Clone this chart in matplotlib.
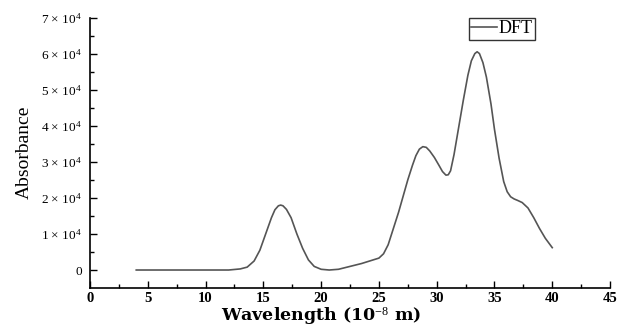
import matplotlib

matplotlib.use("Agg")
import matplotlib.pyplot as plt
from matplotlib.ticker import FuncFormatter, MultipleLocator

plt.rcParams["font.family"] = "serif"
plt.rcParams["font.serif"] = ["Liberation Serif", "DejaVu Serif"]
plt.rcParams["mathtext.fontset"] = "custom"
plt.rcParams["mathtext.rm"] = "Liberation Serif"
plt.rcParams["mathtext.it"] = "Liberation Serif:italic"
plt.rcParams["mathtext.bf"] = "Liberation Serif:bold"

# wavelength (10^-8 m)
wavelength = [4.0, 8.0, 12.0, 13.0, 13.6, 14.2, 14.7, 15.2, 15.7, 16.0, 16.3, 16.5,
              16.7, 17.0, 17.4, 17.9, 18.4, 18.9, 19.4, 20.0, 20.7, 21.5, 22.5, 23.5,
              24.5, 25.0, 25.4, 25.8, 26.2, 26.7, 27.1, 27.5, 27.9, 28.2, 28.5, 28.8,
              29.1, 29.4, 29.8, 30.2, 30.5, 30.8, 31.0, 31.2, 31.5, 31.9, 32.3, 32.7,
              33.0, 33.3, 33.5, 33.7, 34.0, 34.3, 34.7, 35.0, 35.4, 35.8, 36.1, 36.4,
              36.7, 37.0, 37.4, 37.9, 38.4, 38.9, 39.4, 40.0]
# absorbance (x 10^4)
absorbance = [0.0, 0.0, 0.0, 0.03, 0.08, 0.25, 0.55, 1.0, 1.45, 1.67, 1.78, 1.8,
              1.78, 1.68, 1.45, 1.0, 0.6, 0.28, 0.1, 0.02, 0.0, 0.02, 0.1, 0.18,
              0.28, 0.33, 0.45, 0.7, 1.1, 1.6, 2.05, 2.5, 2.9, 3.17, 3.35, 3.42,
              3.4, 3.3, 3.12, 2.9, 2.73, 2.63, 2.64, 2.75, 3.2, 3.95, 4.7, 5.4,
              5.8, 6.0, 6.05, 6.0, 5.75, 5.35, 4.6, 3.9, 3.1, 2.45, 2.17, 2.03,
              1.97, 1.93, 1.87, 1.72, 1.45, 1.15, 0.88, 0.62]

fig = plt.figure(figsize=(6.17, 3.31), dpi=100)
ax = fig.add_axes([0.1459, 0.1314, 0.8428, 0.8157])

ax.plot(wavelength, [v * 1e4 for v in absorbance], color="#555555", lw=1.2, label="DFT")

ax.set_xlim(0, 45)
ax.set_ylim(-0.485e4, 7e4)
ax.spines["top"].set_visible(False)
ax.spines["right"].set_visible(False)
ax.spines["left"].set_linewidth(1.2)
ax.spines["bottom"].set_linewidth(1.2)

ax.xaxis.set_major_locator(MultipleLocator(5))
ax.xaxis.set_minor_locator(MultipleLocator(2.5))
ax.yaxis.set_major_locator(MultipleLocator(1e4))
ax.yaxis.set_minor_locator(MultipleLocator(0.5e4))
ax.tick_params(which="major", direction="in", length=5, width=1)
ax.tick_params(which="minor", direction="in", length=3, width=1)
ax.tick_params(axis="x", labelsize=10.5, pad=3)
ax.tick_params(axis="y", labelsize=9.5, pad=6)
for lbl in ax.get_xticklabels():
    lbl.set_fontweight("bold")


def fmt_y(v, pos):
    n = int(round(v / 1e4))
    if n == 0:
        return "0"
    return f"{n} × 10$^{{4}}$"


ax.yaxis.set_major_formatter(FuncFormatter(fmt_y))

ax.set_xlabel("Wavelength (10$^{-8}$ m)", fontsize=12.5, family="DejaVu Serif", fontweight="bold")
ax.xaxis.set_label_coords(0.444, -0.065)
ax.set_ylabel("Absorbance", fontsize=14, labelpad=6)

ax.legend(
    loc="upper right",
    bbox_to_anchor=(0.856, 1.0),
    fontsize=13,
    frameon=True,
    fancybox=False,
    edgecolor="black",
    handlelength=1.4,
    handletextpad=0.1,
    borderpad=0.15,
    borderaxespad=0.0,
)

fig.savefig("out.png", dpi=100)
